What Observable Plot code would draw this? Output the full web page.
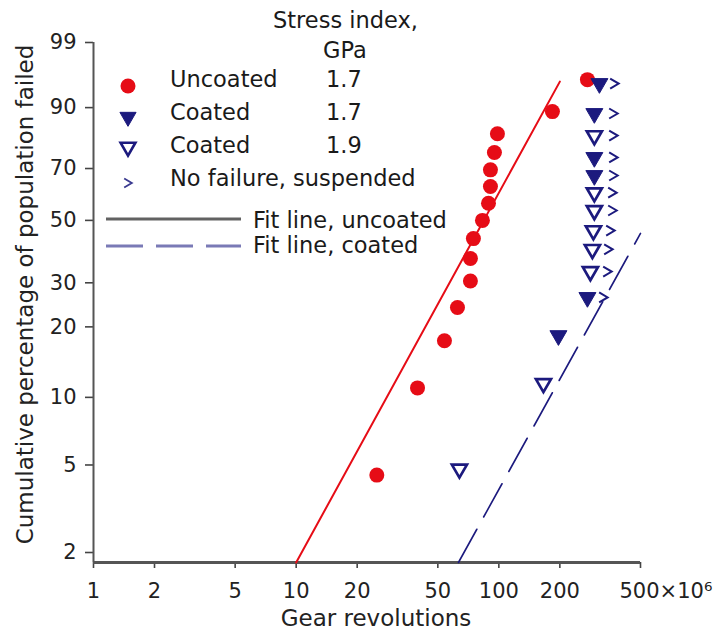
<!DOCTYPE html>
<html>
<head>
<meta charset="utf-8">
<script src="https://cdn.jsdelivr.net/npm/d3@7"></script>
<script src="https://cdn.jsdelivr.net/npm/@observablehq/plot@0.6"></script>
<style>
  html, body { margin: 0; padding: 0; background: #fff; }
  #chart { width: 724px; height: 636px; }
</style>
</head>
<body>
<div id="chart"></div>
<script>
// ---- data (gear revolutions in millions, cumulative % failed) ----
const xTicks = [1, 2, 5, 10, 20, 50, 100, 200, 500];
const xTickLabels = ["1", "2", "5", "10", "20", "50", "100", "200", "500×10⁶"];
const yTicks = [2, 5, 10, 20, 30, 50, 70, 90, 99];
const yRangePct = [1.8, 99];

const uncoatedRevs = [25.0, 39.7, 53.9, 62.5, 72.4, 72.4, 74.9, 83.0, 88.9, 90.9, 90.9, 95.1, 98.4, 183.8, 273.6];
const uncoatedPct  = [4.5, 11, 17.5, 24, 30.5, 37, 43.5, 50, 56.5, 63, 69.5, 76, 82.5, 89, 95.5];

const coated17Revs = [196.8, 273.6, 296, 296, 296, 313.5];
const coated17Pct  = [18.4, 26.3, 67.3, 74.2, 88.5, 94.9];

const coated19Revs = [63.9, 166, 283, 289.5, 292.8, 296, 296, 296];
const coated19Pct  = [4.8, 11.5, 33.1, 39.9, 46.3, 53.7, 60.6, 81.9];

const suspendedRevs = [371.8, 367.6, 367.6, 367.6, 367.6, 363.5, 363.5, 355.3, 347.3, 343.4, 328];
const suspendedPct  = [94.9, 88.5, 81.9, 74.2, 67.3, 60.6, 53.7, 46.3, 39.9, 33.1, 26.3];

const fitUncoatedRevs = [10, 200];
const fitUncoatedPct  = [1.8, 95.2];
const fitCoatedRevs   = [63.2, 500];
const fitCoatedPct    = [1.8, 45.3];

// ---- helpers ----
const W = p => Math.log(-Math.log(1 - p / 100));          // Weibull probability transform
const Winv = w => 100 * (1 - Math.exp(-Math.exp(w)));
const rows = (revs, pct) => revs.map((r, i) => ({rev: r, pct: pct[i]}));
const xLabelRows = xTicks.map((t, i) => ({t, label: xTickLabels[i], last: i === xTicks.length - 1}));

const RED = "#e60c16";
const NAVY = "#1c1a7e";
const FONT = "DejaVu Sans";

const downTriangle = {
  draw(ctx, size) {
    const s3 = Math.sqrt(3);
    const y = -Math.sqrt(size / (s3 * 3));
    ctx.moveTo(0, -2 * y);
    ctx.lineTo(s3 * y, y);
    ctx.lineTo(-s3 * y, y);
    ctx.closePath();
  }
};
const chevron = {
  draw(ctx, size) {
    const a = Math.sqrt(size / Math.PI);
    ctx.moveTo(-0.85 * a, -a);
    ctx.lineTo(0.85 * a, 0);
    ctx.lineTo(-0.85 * a, a);
  }
};

const chart = Plot.plot({
  width: 724,
  height: 636,
  marginTop: 42,
  marginBottom: 74,
  marginLeft: 93,
  marginRight: 84,
  style: {fontFamily: FONT, fontSize: "21px", color: "#222", background: "#fff", overflow: "visible"},
  x: {type: "log", domain: [1, 500]},
  y: {domain: [W(yRangePct[0]), W(yRangePct[1])]},
  marks: [
    Plot.axisX({ticks: xTicks, tickSize: 6, strokeWidth: 1.6, stroke: "#444", text: null, label: null}),
    Plot.text(xLabelRows.filter(d => !d.last), {x: "t", text: "label", frameAnchor: "bottom",
      lineAnchor: "top", textAnchor: "middle", dy: 21, fill: "#222"}),
    Plot.text(xLabelRows.filter(d => d.last), {x: "t", text: "label", frameAnchor: "bottom",
      lineAnchor: "top", textAnchor: "start", dy: 21, dx: -21, fill: "#222"}),
    Plot.axisY({ticks: yTicks.map(W), tickSize: 8, tickPadding: 9, strokeWidth: 1.6, stroke: "#444",
      tickFormat: d => String(Math.round(Winv(d))), label: null}),
    Plot.ruleX([1], {stroke: "#555", strokeWidth: 2}),
    Plot.ruleY([W(yRangePct[0])], {stroke: "#555", strokeWidth: 3}),
    Plot.text(["Gear revolutions"], {text: d => d, frameAnchor: "bottom", textAnchor: "middle",
      lineAnchor: "top", dy: 47, dx: 9, fill: "#222", fontSize: 23}),
    Plot.text(["Cumulative percentage of population failed"], {text: d => d, frameAnchor: "left",
      textAnchor: "middle", lineAnchor: "middle", rotate: -90, dx: -68, dy: -8, fill: "#222", fontSize: 23}),
    Plot.line(rows(fitUncoatedRevs, fitUncoatedPct), {x: "rev", y: d => W(d.pct), stroke: RED, strokeWidth: 2}),
    Plot.line(rows(fitCoatedRevs, fitCoatedPct), {x: "rev", y: d => W(d.pct), stroke: NAVY, strokeWidth: 1.6,
      strokeDasharray: "38 14"}),
    Plot.dot(rows(uncoatedRevs, uncoatedPct), {x: "rev", y: d => W(d.pct), r: 7.5, fill: RED, stroke: "none"}),
    Plot.dot(rows(coated17Revs, coated17Pct), {x: "rev", y: d => W(d.pct), r: 6.3, symbol: downTriangle,
      fill: NAVY, stroke: NAVY, strokeWidth: 1}),
    Plot.dot(rows(coated19Revs, coated19Pct), {x: "rev", y: d => W(d.pct), r: 5.6, symbol: downTriangle,
      fill: "#fff", stroke: NAVY, strokeWidth: 2.7}),
    Plot.dot(rows(suspendedRevs, suspendedPct), {x: "rev", y: d => W(d.pct), r: 5, symbol: chevron,
      fill: "none", stroke: NAVY, strokeWidth: 2})
  ]
});

document.getElementById("chart").appendChild(chart);

// ---- legend (inside the plot area, top-left) ----
const svg = d3.select(chart);
const lg = svg.append("g").attr("font-family", FONT).attr("font-size", 22.5)
  .attr("fill", "#1a1a1a").attr("text-anchor", "start");
lg.append("text").attr("x", 273).attr("y", 28).text("Stress index,");
lg.append("text").attr("x", 323).attr("y", 58).text("GPa");

const legendRows = [
  {label: "Uncoated", value: "1.7", y: 87, sy: 86, kind: "circle"},
  {label: "Coated", value: "1.7", y: 120, sy: 117, kind: "filled"},
  {label: "Coated", value: "1.9", y: 153, sy: 147, kind: "open"},
  {label: "No failure, suspended", value: "", y: 186, sy: 183, kind: "chevron"}
];
for (const r of legendRows) {
  lg.append("text").attr("x", 170).attr("y", r.y).text(r.label);
  if (r.value) lg.append("text").attr("x", 326).attr("y", r.y).text(r.value);
  const g = lg.append("g").attr("transform", `translate(128,${r.sy})`);
  if (r.kind === "circle") {
    g.append("circle").attr("r", 7.5).attr("fill", RED);
  } else if (r.kind === "filled") {
    g.append("path").attr("d", d3.symbol(downTriangle, Math.PI * 36)()).attr("fill", NAVY).attr("stroke", NAVY);
  } else if (r.kind === "open") {
    g.append("path").attr("d", d3.symbol(downTriangle, Math.PI * 30.25)()).attr("fill", "#fff")
      .attr("stroke", NAVY).attr("stroke-width", 2.6);
  } else {
    g.append("path").attr("d", d3.symbol(chevron, Math.PI * 20)()).attr("fill", "none")
      .attr("stroke", "#3a3a90").attr("stroke-width", 1.8);
  }
}
lg.append("line").attr("x1", 106).attr("x2", 241).attr("y1", 219).attr("y2", 219)
  .attr("stroke", "#626262").attr("stroke-width", 3);
lg.append("text").attr("x", 253).attr("y", 228).text("Fit line, uncoated");
lg.append("line").attr("x1", 106).attr("x2", 241).attr("y1", 246).attr("y2", 246)
  .attr("stroke", "#7a7ab6").attr("stroke-width", 3).attr("stroke-dasharray", "37 13");
lg.append("text").attr("x", 253).attr("y", 253).text("Fit line, coated");
</script>
</body>
</html>
